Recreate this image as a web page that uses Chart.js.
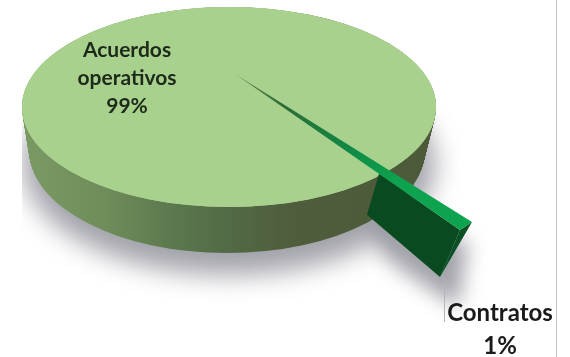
<!DOCTYPE html>
<html>
<head>
<meta charset="utf-8">
<style>
  html, body { margin: 0; background: #fff; }
  #wrap { width: 570px; height: 357px; }
</style>
<script src="https://cdn.jsdelivr.net/npm/chart.js@4/dist/chart.umd.min.js"></script>
</head>
<body>
<div id="wrap"><canvas id="myChart" width="570" height="357"></canvas></div>
<script>
const categories = ["Acuerdos operativos", "Contratos"];
const shares = [99, 1];

const TOP_COLOR = "#a9d18e";
const WEDGE_COLOR = "#0ea34f";
const WEDGE_SIDE = "#0a4a20";
const WEDGE_END = "#0b5024";

// ellipses of the disc, top face and base
const TOP = { x: 229, y: 107, rx: 207, ry: 100 };
const BASE = { x: 227, y: 150, rx: 198, ry: 103 };

// where the thin slice lands on screen
const APEX = [235, 74];
const EDGE_A = [472, 222];
const EDGE_B = [460, 230];

function lerp(a, b, t) {
  return a + (b - a) * t;
}

// affine matrix taking the arc centre and two rim points to three screen points
function wedgeMatrix(arc) {
  const { x, y, outerRadius, startAngle, endAngle } = arc;
  const ax = outerRadius * Math.cos(startAngle);
  const ay = outerRadius * Math.sin(startAngle);
  const bx = outerRadius * Math.cos(endAngle);
  const by = outerRadius * Math.sin(endAngle);
  const det = ax * by - bx * ay;
  const ux = EDGE_A[0] - APEX[0];
  const uy = EDGE_A[1] - APEX[1];
  const vx = EDGE_B[0] - APEX[0];
  const vy = EDGE_B[1] - APEX[1];
  const a = (ux * by - vx * ay) / det;
  const c = (vx * ax - ux * bx) / det;
  const b = (uy * by - vy * ay) / det;
  const d = (vy * ax - uy * bx) / det;
  return [a, b, c, d, APEX[0] - a * x - c * y, APEX[1] - b * x - d * y];
}

// thin slice goes dark towards its point
function wedgeGradient(ctx, arc) {
  const grad = ctx.createRadialGradient(arc.x, arc.y, 0, arc.x, arc.y, arc.outerRadius);
  grad.addColorStop(0, "#6f8f55");
  grad.addColorStop(0.2, "#2f6b35");
  grad.addColorStop(0.5, "#0f8a45");
  grad.addColorStop(0.7, WEDGE_COLOR);
  grad.addColorStop(1, WEDGE_COLOR);
  return grad;
}

class Pie3DController extends Chart.PieController {
  draw() {
    const ctx = this.chart.ctx;
    const area = this.chart.chartArea;
    const [big, thin] = this.getMeta().data;

    this.drawShadow(ctx);
    this.drawWall(ctx);

    // big slice, squashed onto the top ellipse
    ctx.save();
    ctx.fillStyle = TOP_COLOR;
    ctx.beginPath();
    ctx.ellipse(TOP.x, TOP.y, TOP.rx, TOP.ry, 0, 0, Math.PI * 2);
    ctx.fill();
    const sx = TOP.rx / big.outerRadius;
    const sy = TOP.ry / big.outerRadius;
    ctx.transform(sx, 0, 0, sy, TOP.x - big.x * sx, TOP.y - big.y * sy);
    big.draw(ctx, area);
    ctx.restore();

    // thin slice pulled out towards the viewer
    this.drawWedgeSides(ctx);
    thin.options = Object.assign({}, thin.options, {
      backgroundColor: wedgeGradient(ctx, thin),
    });
    ctx.save();
    ctx.transform(...wedgeMatrix(thin));
    thin.draw(ctx, area);
    ctx.restore();
  }

  drawShadow(ctx) {
    ctx.save();
    ctx.beginPath();
    ctx.rect(22, 8, 535, 349);
    ctx.clip();
    ctx.filter = "blur(13px)";
    ctx.fillStyle = "rgba(70, 70, 85, 0.5)";
    ctx.beginPath();
    ctx.ellipse(BASE.x + 2, BASE.y + 14, BASE.rx + 8, BASE.ry + 8, 0, 0, Math.PI * 2);
    ctx.fill();
    ctx.filter = "blur(10px)";
    ctx.beginPath();
    ctx.moveTo(372, 222);
    ctx.lineTo(468, 242);
    ctx.lineTo(458, 308);
    ctx.lineTo(385, 258);
    ctx.closePath();
    ctx.fill();
    ctx.restore();
  }

  drawWall(ctx) {
    const grad = ctx.createLinearGradient(22, 0, 436, 0);
    grad.addColorStop(0, "#7a9a64");
    grad.addColorStop(0.2, "#6f8d5a");
    grad.addColorStop(0.35, "#5c7a4e");
    grad.addColorStop(0.5, "#526a45");
    grad.addColorStop(0.65, "#4f5d3c");
    grad.addColorStop(1, "#4d5a3a");
    ctx.fillStyle = grad;
    for (let i = 0; i <= 50; i++) {
      const t = i / 50;
      ctx.beginPath();
      ctx.ellipse(
        lerp(BASE.x, TOP.x, t),
        lerp(BASE.y, TOP.y, t),
        lerp(BASE.rx, TOP.rx, t),
        lerp(BASE.ry, TOP.ry, t),
        0, 0, Math.PI * 2
      );
      ctx.fill();
    }
  }

  drawWedgeSides(ctx) {
    const t = 0.64;
    const inner = [lerp(APEX[0], EDGE_B[0], t), lerp(APEX[1], EDGE_B[1], t)];

    ctx.fillStyle = WEDGE_SIDE;
    ctx.beginPath();
    ctx.moveTo(inner[0], inner[1]);
    ctx.lineTo(EDGE_B[0], EDGE_B[1]);
    ctx.lineTo(EDGE_B[0] - 20, EDGE_B[1] + 47);
    ctx.lineTo(inner[0] - 12, inner[1] + 41);
    ctx.closePath();
    ctx.fill();

    ctx.fillStyle = WEDGE_END;
    ctx.beginPath();
    ctx.moveTo(EDGE_B[0], EDGE_B[1]);
    ctx.lineTo(EDGE_A[0], EDGE_A[1]);
    ctx.lineTo(EDGE_B[0] - 20, EDGE_B[1] + 47);
    ctx.closePath();
    ctx.fill();
  }
}
Pie3DController.id = "pie3d";
Pie3DController.defaults = Chart.PieController.defaults;
Chart.register(Pie3DController);

function percent(value) {
  const total = shares.reduce((sum, v) => sum + v, 0);
  return Math.round((value / total) * 100) + "%";
}

const pieLabels = {
  id: "pieLabels",
  afterDraw(chart) {
    const ctx = chart.ctx;
    ctx.save();

    // page edge and leader line
    ctx.strokeStyle = "#c4c4c4";
    ctx.lineWidth = 1;
    ctx.beginPath();
    ctx.moveTo(556.5, 0);
    ctx.lineTo(556.5, 357);
    ctx.stroke();
    ctx.strokeStyle = "#b5b5b5";
    ctx.beginPath();
    ctx.moveTo(444.5, 278);
    ctx.lineTo(444.5, 322);
    ctx.stroke();

    ctx.textAlign = "center";
    ctx.textBaseline = "middle";
    ctx.fillStyle = "#1d2a1a";
    ctx.font = "bold 21px Lato";
    const lines = categories[0].split(" ").concat(percent(shares[0]));
    lines.forEach((line, i) => ctx.fillText(line, 127, 50 + i * 28));

    ctx.fillStyle = "#1a1a1a";
    ctx.font = "bold 24px Lato";
    ctx.fillText(categories[1], 500, 313);
    ctx.fillText(percent(shares[1]), 500, 346);
    ctx.restore();
  },
};

new Chart(document.getElementById("myChart"), {
  type: "pie3d",
  data: {
    labels: categories,
    datasets: [
      {
        data: shares,
        backgroundColor: [TOP_COLOR, WEDGE_COLOR],
        borderWidth: 0,
      },
    ],
  },
  options: {
    responsive: false,
    animation: false,
    rotation: 135,
    plugins: { legend: { display: false }, tooltip: { enabled: false } },
  },
  plugins: [pieLabels],
});
</script>
</body>
</html>
